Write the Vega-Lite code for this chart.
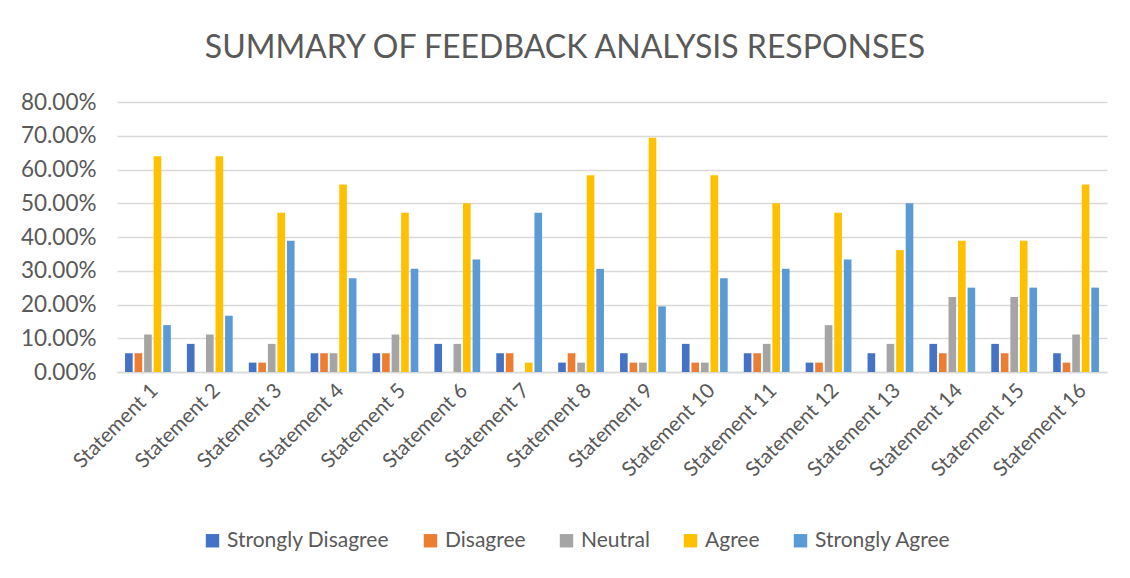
{
  "$schema": "https://vega.github.io/schema/vega-lite/v6.json",
  "width": 990,
  "height": 270,
  "autosize": "none",
  "padding": {"left": 117, "top": 102, "right": 23, "bottom": 206},
  "background": "white",
  "config": {
    "font": "Lato",
    "view": {"stroke": null}
  },
  "title": {
    "text": "SUMMARY OF FEEDBACK ANALYSIS RESPONSES",
    "fontSize": 32,
    "font": "Lato",
    "fontWeight": "normal",
    "color": "#595959",
    "anchor": "middle",
    "dx": -47,
    "offset": 26
  },
  "data": {
    "values": [
      {"s": "Statement 1", "r": "Strongly Disagree", "v": 0.0556}, {"s": "Statement 1", "r": "Disagree", "v": 0.0556}, {"s": "Statement 1", "r": "Neutral", "v": 0.1111}, {"s": "Statement 1", "r": "Agree", "v": 0.6389}, {"s": "Statement 1", "r": "Strongly Agree", "v": 0.1389},
      {"s": "Statement 2", "r": "Strongly Disagree", "v": 0.0833}, {"s": "Statement 2", "r": "Disagree", "v": 0}, {"s": "Statement 2", "r": "Neutral", "v": 0.1111}, {"s": "Statement 2", "r": "Agree", "v": 0.6389}, {"s": "Statement 2", "r": "Strongly Agree", "v": 0.1667},
      {"s": "Statement 3", "r": "Strongly Disagree", "v": 0.0278}, {"s": "Statement 3", "r": "Disagree", "v": 0.0278}, {"s": "Statement 3", "r": "Neutral", "v": 0.0833}, {"s": "Statement 3", "r": "Agree", "v": 0.4722}, {"s": "Statement 3", "r": "Strongly Agree", "v": 0.3889},
      {"s": "Statement 4", "r": "Strongly Disagree", "v": 0.0556}, {"s": "Statement 4", "r": "Disagree", "v": 0.0556}, {"s": "Statement 4", "r": "Neutral", "v": 0.0556}, {"s": "Statement 4", "r": "Agree", "v": 0.5556}, {"s": "Statement 4", "r": "Strongly Agree", "v": 0.2778},
      {"s": "Statement 5", "r": "Strongly Disagree", "v": 0.0556}, {"s": "Statement 5", "r": "Disagree", "v": 0.0556}, {"s": "Statement 5", "r": "Neutral", "v": 0.1111}, {"s": "Statement 5", "r": "Agree", "v": 0.4722}, {"s": "Statement 5", "r": "Strongly Agree", "v": 0.3056},
      {"s": "Statement 6", "r": "Strongly Disagree", "v": 0.0833}, {"s": "Statement 6", "r": "Disagree", "v": 0}, {"s": "Statement 6", "r": "Neutral", "v": 0.0833}, {"s": "Statement 6", "r": "Agree", "v": 0.5}, {"s": "Statement 6", "r": "Strongly Agree", "v": 0.3333},
      {"s": "Statement 7", "r": "Strongly Disagree", "v": 0.0556}, {"s": "Statement 7", "r": "Disagree", "v": 0.0556}, {"s": "Statement 7", "r": "Neutral", "v": 0}, {"s": "Statement 7", "r": "Agree", "v": 0.0278}, {"s": "Statement 7", "r": "Strongly Agree", "v": 0.4722},
      {"s": "Statement 8", "r": "Strongly Disagree", "v": 0.0278}, {"s": "Statement 8", "r": "Disagree", "v": 0.0556}, {"s": "Statement 8", "r": "Neutral", "v": 0.0278}, {"s": "Statement 8", "r": "Agree", "v": 0.5833}, {"s": "Statement 8", "r": "Strongly Agree", "v": 0.3056},
      {"s": "Statement 9", "r": "Strongly Disagree", "v": 0.0556}, {"s": "Statement 9", "r": "Disagree", "v": 0.0278}, {"s": "Statement 9", "r": "Neutral", "v": 0.0278}, {"s": "Statement 9", "r": "Agree", "v": 0.6944}, {"s": "Statement 9", "r": "Strongly Agree", "v": 0.1944},
      {"s": "Statement 10", "r": "Strongly Disagree", "v": 0.0833}, {"s": "Statement 10", "r": "Disagree", "v": 0.0278}, {"s": "Statement 10", "r": "Neutral", "v": 0.0278}, {"s": "Statement 10", "r": "Agree", "v": 0.5833}, {"s": "Statement 10", "r": "Strongly Agree", "v": 0.2778},
      {"s": "Statement 11", "r": "Strongly Disagree", "v": 0.0556}, {"s": "Statement 11", "r": "Disagree", "v": 0.0556}, {"s": "Statement 11", "r": "Neutral", "v": 0.0833}, {"s": "Statement 11", "r": "Agree", "v": 0.5}, {"s": "Statement 11", "r": "Strongly Agree", "v": 0.3056},
      {"s": "Statement 12", "r": "Strongly Disagree", "v": 0.0278}, {"s": "Statement 12", "r": "Disagree", "v": 0.0278}, {"s": "Statement 12", "r": "Neutral", "v": 0.1389}, {"s": "Statement 12", "r": "Agree", "v": 0.4722}, {"s": "Statement 12", "r": "Strongly Agree", "v": 0.3333},
      {"s": "Statement 13", "r": "Strongly Disagree", "v": 0.0556}, {"s": "Statement 13", "r": "Disagree", "v": 0}, {"s": "Statement 13", "r": "Neutral", "v": 0.0833}, {"s": "Statement 13", "r": "Agree", "v": 0.3611}, {"s": "Statement 13", "r": "Strongly Agree", "v": 0.5},
      {"s": "Statement 14", "r": "Strongly Disagree", "v": 0.0833}, {"s": "Statement 14", "r": "Disagree", "v": 0.0556}, {"s": "Statement 14", "r": "Neutral", "v": 0.2222}, {"s": "Statement 14", "r": "Agree", "v": 0.3889}, {"s": "Statement 14", "r": "Strongly Agree", "v": 0.25},
      {"s": "Statement 15", "r": "Strongly Disagree", "v": 0.0833}, {"s": "Statement 15", "r": "Disagree", "v": 0.0556}, {"s": "Statement 15", "r": "Neutral", "v": 0.2222}, {"s": "Statement 15", "r": "Agree", "v": 0.3889}, {"s": "Statement 15", "r": "Strongly Agree", "v": 0.25},
      {"s": "Statement 16", "r": "Strongly Disagree", "v": 0.0556}, {"s": "Statement 16", "r": "Disagree", "v": 0.0278}, {"s": "Statement 16", "r": "Neutral", "v": 0.1111}, {"s": "Statement 16", "r": "Agree", "v": 0.5556}, {"s": "Statement 16", "r": "Strongly Agree", "v": 0.25}
    ]
  },
  "mark": {"type": "bar"},
  "encoding": {
    "x": {
      "field": "s", "type": "nominal", "sort": null, "title": null,
      "scale": {"paddingInner": 0.26, "paddingOuter": 0.13},
      "axis": {
        "labelAngle": -45, "labelFontSize": 20.5, "labelColor": "#595959",
        "ticks": false, "domainColor": "#d9d9d9", "domainWidth": 1.5,
        "labelPadding": 8, "labelFont": "Lato"
      }
    },
    "xOffset": {
      "field": "r", "type": "nominal", "sort": null,
      "scale": {"domain": ["Strongly Disagree", "Disagree", "Neutral", "Agree", "Strongly Agree"], "paddingInner": 0.2}
    },
    "y": {
      "field": "v", "type": "quantitative", "title": null,
      "scale": {"domain": [0, 0.8], "nice": false},
      "axis": {
        "values": [0, 0.1, 0.2, 0.3, 0.4, 0.5, 0.6, 0.7, 0.8],
        "format": ".2%", "labelFontSize": 22.5, "labelColor": "#595959",
        "ticks": false, "domain": false, "gridColor": "#d9d9d9", "gridWidth": 1.5,
        "labelPadding": 21, "labelFont": "Lato"
      }
    },
    "color": {
      "field": "r", "type": "nominal", "sort": null,
      "scale": {
        "domain": ["Strongly Disagree", "Disagree", "Neutral", "Agree", "Strongly Agree"],
        "range": ["#4472C4", "#ED7D31", "#A5A5A5", "#FFC000", "#5B9BD5"]
      },
      "legend": {
        "title": null, "orient": "none", "direction": "horizontal",
        "legendX": 85, "legendY": 428,
        "symbolType": "square", "symbolSize": 180, "symbolStrokeWidth": 0,
        "labelFontSize": 21, "labelColor": "#595959", "labelFont": "Lato",
        "labelLimit": 400,
        "columnPadding": 30, "labelOffset": 4
      }
    }
  }
}
